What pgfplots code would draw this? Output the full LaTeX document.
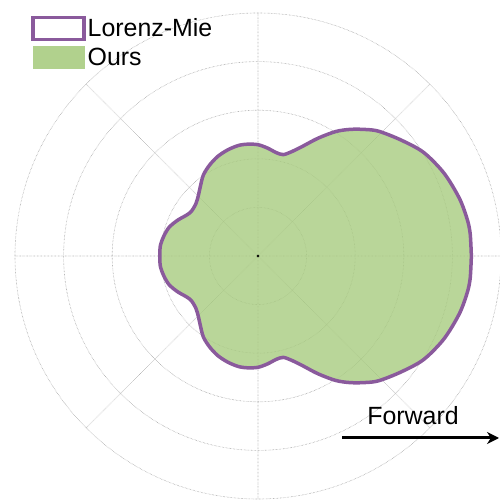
\documentclass[border=0pt]{standalone}
\usepackage{pgfplots}
\pgfplotsset{compat=1.18}
\usepgfplotslibrary{polar}
\usetikzlibrary{arrows.meta}
\usepackage{pgfplotstable}
\usepackage{fontspec}
\setmainfont{Liberation Sans}

\definecolor{miepurple}{HTML}{8A5A9C}
\definecolor{oursgreen}{HTML}{A8CC80}

% Phase function (angle in degrees, radius in grid units)
\pgfplotstableread{
ang r
0   4.39
6   4.39
10  4.37
16  4.31
24  4.19
32  4.02
39  3.79
46  3.57
50  3.40
54  3.22
58  3.02
63  2.72
68  2.43
72  2.26
76  2.15
80  2.16
85  2.23
90  2.29
95  2.31
100 2.31
106 2.27
112 2.21
118 2.12
124 2.01
130 1.85
135 1.74
140 1.67
146 1.65
150 1.69
156 1.81
162 1.92
168 1.98
174 2.02
180 2.02
186 2.02
192 1.98
198 1.92
204 1.81
210 1.69
214 1.65
220 1.67
225 1.74
230 1.85
236 2.01
242 2.12
248 2.21
254 2.27
260 2.31
265 2.31
270 2.29
275 2.23
280 2.16
284 2.15
288 2.26
292 2.43
297 2.72
302 3.02
306 3.22
310 3.40
314 3.57
321 3.79
328 4.02
336 4.19
344 4.31
350 4.37
354 4.39
360 4.39
}\phase

\begin{document}
\begin{tikzpicture}
\begin{polaraxis}[
  width=486bp, height=486bp, scale only axis,
  ymin=0, ymax=5,
  ytick={1,2,3,4,5}, yticklabels={},
  xtick={0,45,...,315}, xticklabels={},
  major tick length=0pt,
  grid=major,
  major grid style={densely dotted, gray!85, line width=0.6bp},
  axis line style={draw=none},
  legend cell align=left,
  legend style={draw=none, fill=none, at={(axis description cs:0.033,0.995)},
    anchor=north west, font=\fontsize{25}{27}\selectfont,
    row sep=5bp, inner sep=0pt},
]
\addplot[fill=oursgreen, fill opacity=0.8, draw=none, forget plot, smooth, tension=0.5] table[x=ang, y=r] {\phase} -- cycle;
\addplot[miepurple, line width=3.5bp, forget plot, smooth, tension=0.5] table[x=ang, y=r] {\phase};
\addplot[only marks, mark=*, mark size=1.2bp, black, forget plot] coordinates {(0,0)};
\coordinate (O) at (axis cs:0,0);
\addlegendimage{legend image code/.code={\draw[miepurple, line width=3.5bp, fill=white] (0bp,-11bp) rectangle (51bp,11bp);}}
\addlegendentry{Lorenz-Mie}
\addlegendimage{legend image code/.code={\fill[oursgreen!90!white] (0bp,-11bp) rectangle (51bp,11bp);}}
\addlegendentry{Ours}
\end{polaraxis}
\draw[-{Stealth[length=12bp,width=12bp]}, line width=3bp] ([shift={(84bp,-182bp)}]O) -- ([shift={(241bp,-182bp)}]O);
\node[anchor=base, font=\fontsize{25}{27}\selectfont] at ([shift={(155bp,-169bp)}]O) {Forward};
\pgfresetboundingbox
\path[use as bounding box] ([shift={(-258bp,256bp)}]O) rectangle ([shift={(242bp,-247bp)}]O);
\end{tikzpicture}
\end{document}
